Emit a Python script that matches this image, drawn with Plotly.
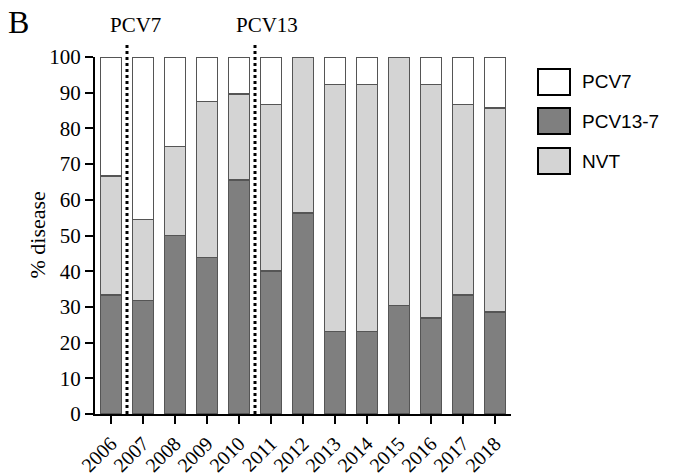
import plotly.graph_objects as go

years = ["2006", "2007", "2008", "2009", "2010", "2011", "2012",
         "2013", "2014", "2015", "2016", "2017", "2018"]
pcv13_7 = [33.3, 31.8, 50.0, 43.8, 65.5, 40.0, 56.3, 23.1, 23.1, 30.4, 26.9, 33.3, 28.6]
nvt = [33.4, 22.7, 25.0, 43.7, 24.2, 46.7, 43.7, 69.2, 69.2, 69.6, 65.4, 53.4, 57.1]
pcv7 = [33.3, 45.5, 25.0, 12.5, 10.3, 13.3, 0.0, 7.7, 7.7, 0.0, 7.7, 13.3, 14.3]

series = [("PCV13-7", pcv13_7, "#7f7f7f"), ("NVT", nvt, "#d4d4d4"), ("PCV7", pcv7, "#ffffff")]
legend_order = [("PCV7", "#ffffff"), ("PCV13-7", "#7f7f7f"), ("NVT", "#d4d4d4")]

serif = "Liberation Serif"
sans = "Liberation Sans"

L, R, T, B = 95, 511, 57, 414
W, H = 675, 475


def px(xp):
    return (xp - L) / (R - L)


def py(yp):
    return (B - yp) / (B - T)


fig = go.Figure()
for name, vals, col in series:
    fig.add_trace(go.Bar(x=years, y=vals, name=name,
                         marker=dict(color=col, line=dict(color="#555555", width=1.5)),
                         showlegend=False))

fig.update_layout(
    barmode="stack", bargap=0.34,
    width=W, height=H,
    margin=dict(l=L, r=W - R, t=T, b=H - B, autoexpand=False),
    plot_bgcolor="white", paper_bgcolor="white",
    xaxis=dict(type="category", range=[-0.5, 12.5], showline=True, linecolor="black", linewidth=2,
               ticks="outside", ticklen=8, tickwidth=2, tickcolor="black", tickangle=-45,
               tickfont=dict(family=serif, size=20, color="black"), showgrid=False, automargin=False),
    yaxis=dict(range=[0, 100], dtick=10, showline=True, linecolor="black", linewidth=2,
               ticks="outside", ticklen=8, tickwidth=2, tickcolor="black",
               tickfont=dict(family=serif, size=21, color="black"), showgrid=False, zeroline=False,
               automargin=False),
)

# y-axis title
fig.add_annotation(x=px(37), y=0.5, xref="paper", yref="paper", text="% disease", showarrow=False,
                   textangle=-90, xanchor="center", yanchor="middle",
                   font=dict(family=serif, size=22, color="black"))

# vaccine introduction lines
for xpos, label, xc in [(0.5, "PCV7", 135), (4.5, "PCV13", 267)]:
    fig.add_shape(type="line", xref="x", yref="paper", x0=xpos, x1=xpos, y0=0, y1=py(43),
                  line=dict(color="white", width=5))
    fig.add_shape(type="line", xref="x", yref="paper", x0=xpos, x1=xpos, y0=0, y1=py(43),
                  line=dict(color="black", width=3, dash="dot"))
    fig.add_annotation(x=px(xc), y=py(25), xref="paper", yref="paper", text=label, showarrow=False,
                       xanchor="center", yanchor="middle", font=dict(family=serif, size=21, color="black"))

fig.add_annotation(x=px(6), y=py(22), xref="paper", yref="paper", text="B", showarrow=False,
                   xanchor="left", yanchor="middle", font=dict(family=serif, size=32, color="black"))

# manual legend
ys = [82, 121, 161]
for (name, col), yc in zip(legend_order, ys):
    fig.add_shape(type="rect", xref="paper", yref="paper",
                  x0=px(538), x1=px(570), y0=py(yc + 13), y1=py(yc - 13),
                  fillcolor=col, line=dict(color="black", width=2))
    fig.add_annotation(x=px(580), y=py(yc), xref="paper", yref="paper", text=name,
                       showarrow=False, xanchor="left", yanchor="middle",
                       font=dict(family=sans, size=19, color="black"))

fig.write_html("out.html", config={"displayModeBar": False},
               post_script="document.body.style.margin='0';document.body.style.overflow='hidden';")
